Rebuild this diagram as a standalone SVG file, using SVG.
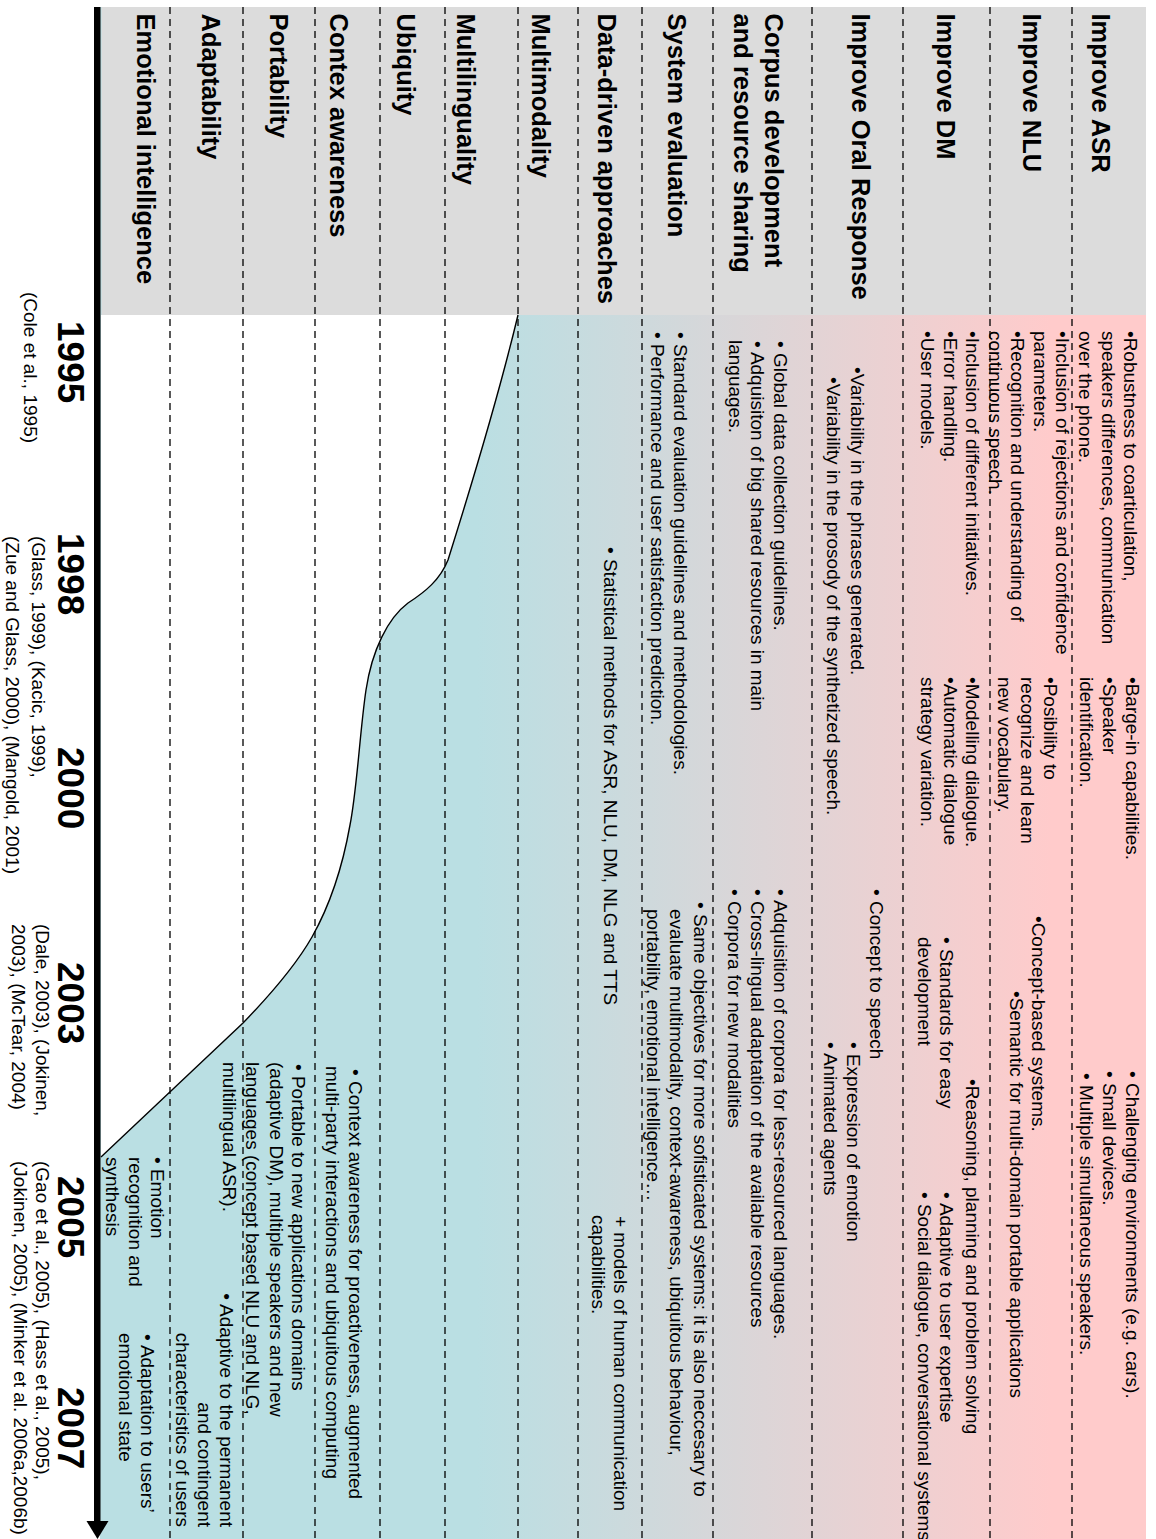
<svg xmlns="http://www.w3.org/2000/svg" width="1156" height="1539" viewBox="0 0 1156 1539">
  <defs>
    <!-- band colour runs from pink (ASR side) to teal (emotion side) -->
    <linearGradient id="bandFill" gradientUnits="userSpaceOnUse" x1="1146" y1="0" x2="101" y2="0">
      <stop offset="0" stop-color="#FFCBCB"/>
      <stop offset="0.09" stop-color="#FFCBCB"/>
      <stop offset="0.64" stop-color="#BADFE3"/>
      <stop offset="1" stop-color="#BADFE3"/>
    </linearGradient>
    <style>
      .lbl { font: bold 25.5px "Liberation Sans", Arial, sans-serif; fill: #000; }
      .t { font: 19px "Liberation Sans", Arial, sans-serif; fill: #000; }
      .yr { font: bold 37px "Liberation Sans", Arial, sans-serif; fill: #000; }
      .end { text-anchor: end; }
      .sep { stroke: #000; stroke-width: 1.3; stroke-dasharray: 7 5; fill: none; }
      .curve { stroke: #000; stroke-width: 1.4; fill: none; }
    </style>
  </defs>

  <!-- backgrounds: coloured band, grey header strip, white area above the curve -->
  <g id="background">
    <rect x="100" y="7" width="1046" height="1532" fill="url(#bandFill)"/>
    <rect x="101.5" y="7" width="1044.5" height="308" fill="#DCDCDC"/>
    <path d="M101,315 L518,315 C500,390 470,490 448,560 C440,580 425,592 408,603 C388,618 372,650 366,690 C360,730 357,790 350,825 C342,870 330,905 312,937 C300,958 275,990 243,1023 L101,1157 Z" fill="#FFFFFF"/>
    <path class="curve" d="M518,315 C500,390 470,490 448,560 C440,580 425,592 408,603 C388,618 372,650 366,690 C360,730 357,790 350,825 C342,870 330,905 312,937 C300,958 275,990 243,1023 L101,1157"/>
  </g>

  <!-- dashed row separators -->
  <g id="connectors">
    <line class="sep" x1="170" y1="7" x2="170" y2="1539"/>
    <line class="sep" x1="243" y1="7" x2="243" y2="1539"/>
    <line class="sep" x1="315" y1="7" x2="315" y2="1539"/>
    <line class="sep" x1="380" y1="7" x2="380" y2="1539"/>
    <line class="sep" x1="445" y1="7" x2="445" y2="1539"/>
    <line class="sep" x1="518" y1="7" x2="518" y2="1539"/>
    <line class="sep" x1="578" y1="7" x2="578" y2="1539"/>
    <line class="sep" x1="642" y1="7" x2="642" y2="1539"/>
    <line class="sep" x1="713" y1="7" x2="713" y2="1539"/>
    <line class="sep" x1="812" y1="7" x2="812" y2="1539"/>
    <line class="sep" x1="903" y1="7" x2="903" y2="1539"/>
    <line class="sep" x1="990" y1="7" x2="990" y2="1539"/>
    <line class="sep" x1="1072" y1="7" x2="1072" y2="1539"/>
  </g>

  <!-- time axis with arrow -->
  <g id="axis">
    <rect x="94" y="7" width="6.5" height="1516" fill="#000"/>
    <polygon points="86.5,1521 108.5,1521 97.5,1539" fill="#000"/>
  </g>

  <!-- all lettering runs top-to-bottom -->
  <g transform="translate(1156 0) rotate(90)">
    <g id="row-asr">
      <text class="lbl" x="13.5" y="64">Improve ASR</text>
      <text class="t" x="331" y="32">•Robustness to coarticulation,</text>
      <text class="t" x="331" y="54.5">speakers differences, communication</text>
      <text class="t" x="331" y="77">over the phone.</text>
      <text class="t" x="677" y="30">•Barge-in capabilities.</text>
      <text class="t" x="677" y="53">•Speaker</text>
      <text class="t" x="677" y="76">identification.</text>
      <text class="t" x="1071" y="30">• Challenging environments (e.g. cars).</text>
      <text class="t" x="1071" y="53">• Small devices.</text>
      <text class="t" x="1073" y="76">• Multiple simultaneous speakers.</text>
    </g>
    <g id="row-nlu">
      <text class="lbl" x="13.5" y="133">Improve NLU</text>
      <text class="t" x="331" y="100">•Inclusion of rejections and confidence</text>
      <text class="t" x="331" y="122">parameters.</text>
      <text class="t" x="331" y="145">•Recognition and understanding of</text>
      <text class="t" x="331" y="167">continuous speech.</text>
      <text class="t" x="677" y="112">•Posibility to</text>
      <text class="t" x="677" y="135">recognize and learn</text>
      <text class="t" x="677" y="158">new vocabulary.</text>
      <text class="t" x="916" y="124">•Concept-based systems.</text>
      <text class="t" x="991" y="146">•Semantic for multi-domain portable applications</text>
    </g>
    <g id="row-dm">
      <text class="lbl" x="13.5" y="219">Improve DM</text>
      <text class="t" x="331" y="190">•Inclusion of different initiatives.</text>
      <text class="t" x="331" y="212">•Error handling.</text>
      <text class="t" x="331" y="235">•User models.</text>
      <text class="t" x="677" y="190">•Modelling dialogue.</text>
      <text class="t" x="677" y="212">•Automatic dialogue</text>
      <text class="t" x="677" y="235">strategy variation.</text>
      <text class="t" x="1079" y="190">•Reasoning, planning and problem solving</text>
      <text class="t" x="937" y="216">• Standards for easy</text>
      <text class="t" x="937" y="238">development</text>
      <text class="t" x="1192" y="216">• Adaptive to user expertise</text>
      <text class="t" x="1192" y="238">• Social dialogue, conversational systems</text>
    </g>
    <g id="row-oral">
      <text class="lbl" x="13.5" y="304">Improve Oral Response</text>
      <text class="t" x="367" y="305">•Variability in the phrases generated.</text>
      <text class="t" x="377" y="329">•Variability in the prosody of the synthetized speech.</text>
      <text class="t" x="889" y="286">• Concept to speech</text>
      <text class="t" x="1042" y="309">• Expression of emotion</text>
      <text class="t" x="1042" y="332">• Animated agents</text>
    </g>
    <g id="row-corpus">
      <text class="lbl" x="13.5" y="391">Corpus development</text>
      <text class="lbl" x="13.5" y="422">and resource sharing</text>
      <text class="t" x="341" y="382">• Global data collection guidelines.</text>
      <text class="t" x="341" y="405">• Adquisiton of big shared resources in main</text>
      <text class="t" x="340" y="427">languages.</text>
      <text class="t" x="889" y="382">• Adquisition of corpora for less-resourced languages.</text>
      <text class="t" x="889" y="405">• Cross-lingual adaptation of the available resources</text>
      <text class="t" x="889" y="428">• Corpora for new modalities</text>
    </g>
    <g id="row-evaluation">
      <text class="lbl" x="13.5" y="488">System evaluation</text>
      <text class="t" x="332" y="482">• Standard evaluation guidelines and methodologies.</text>
      <text class="t" x="332" y="505">• Performance and user satisfaction prediction.</text>
      <text class="t" x="902" y="462">• Same objectives for more sofisticated systems: it is also neccesary to</text>
      <text class="t" x="909" y="486">evaluate multimodality, context-awareness, ubiquitous behaviour,</text>
      <text class="t" x="909" y="509">portability, emotional intelligence…</text>
    </g>
    <g id="row-data">
      <text class="lbl" x="13.5" y="558">Data-driven approaches</text>
      <text class="t" x="547" y="552">• Statistical methods for ASR, NLU, DM, NLG and TTS</text>
      <text class="t" x="1216" y="542">+ models of human communication</text>
      <text class="t" x="1215" y="564">capabilities.</text>
    </g>
    <g id="row-multimodality">
      <text class="lbl" x="13.5" y="624">Multimodality</text>
    </g>
    <g id="row-multilinguality">
      <text class="lbl" x="13.5" y="699">Multilinguality</text>
    </g>
    <g id="row-ubiquity">
      <text class="lbl" x="13.5" y="759">Ubiquity</text>
    </g>
    <g id="row-context">
      <text class="lbl" x="13.5" y="826">Contex awareness</text>
      <text class="t" x="1069" y="807">• Context awareness for proactiveness, augmented</text>
      <text class="t" x="1066" y="830">multi-party interactions and ubiquitous computing</text>
    </g>
    <g id="row-portability">
      <text class="lbl" x="13.5" y="886">Portability</text>
      <text class="t" x="1064" y="864">• Portable to new applications domains</text>
      <text class="t" x="1062" y="886">(adaptive DM), multiple speakers and new</text>
      <text class="t" x="1062" y="910">languages (concept based NLU and NLG,</text>
      <text class="t" x="1062" y="933">multilingual ASR).</text>
    </g>
    <g id="row-adaptability">
      <text class="lbl" x="13.5" y="954">Adaptability</text>
      <text class="t end" x="1527" y="936">• Adaptive to the permanent</text>
      <text class="t end" x="1527" y="958">and contingent</text>
      <text class="t end" x="1527" y="980">characteristics of users</text>
    </g>
    <g id="row-emotion">
      <text class="lbl" x="13.5" y="1019">Emotional intelligence</text>
      <text class="t" x="1157" y="1005">• Emotion</text>
      <text class="t" x="1157" y="1027">recognition and</text>
      <text class="t" x="1157" y="1050">synthesis</text>
      <text class="t" x="1334" y="1015">• Adaptation to users’</text>
      <text class="t" x="1333" y="1037">emotional state</text>
    </g>
    <g id="years">
      <text class="yr" x="321" y="1098">1995</text>
      <text class="yr" x="533" y="1098">1998</text>
      <text class="yr" x="747" y="1098">2000</text>
      <text class="yr" x="962" y="1098">2003</text>
      <text class="yr" x="1176" y="1098">2005</text>
      <text class="yr" x="1387" y="1098">2007</text>
      <text class="t" x="292" y="1132">(Cole et al., 1995)</text>
      <text class="t" x="536" y="1124">(Glass, 1999), (Kacic, 1999),</text>
      <text class="t" x="536" y="1150">(Zue and Glass, 2000), (Mangold, 2001)</text>
      <text class="t" x="924" y="1120">(Dale, 2003), (Jokinen,</text>
      <text class="t" x="924" y="1144">2003), (McTear, 2004)</text>
      <text class="t" x="1161" y="1120">(Gao et al., 2005), (Hass et al., 2005),</text>
      <text class="t" x="1161" y="1142">(Jokinen, 2005), (Minker et al. 2006a,2006b)</text>
    </g>
  </g>
</svg>
